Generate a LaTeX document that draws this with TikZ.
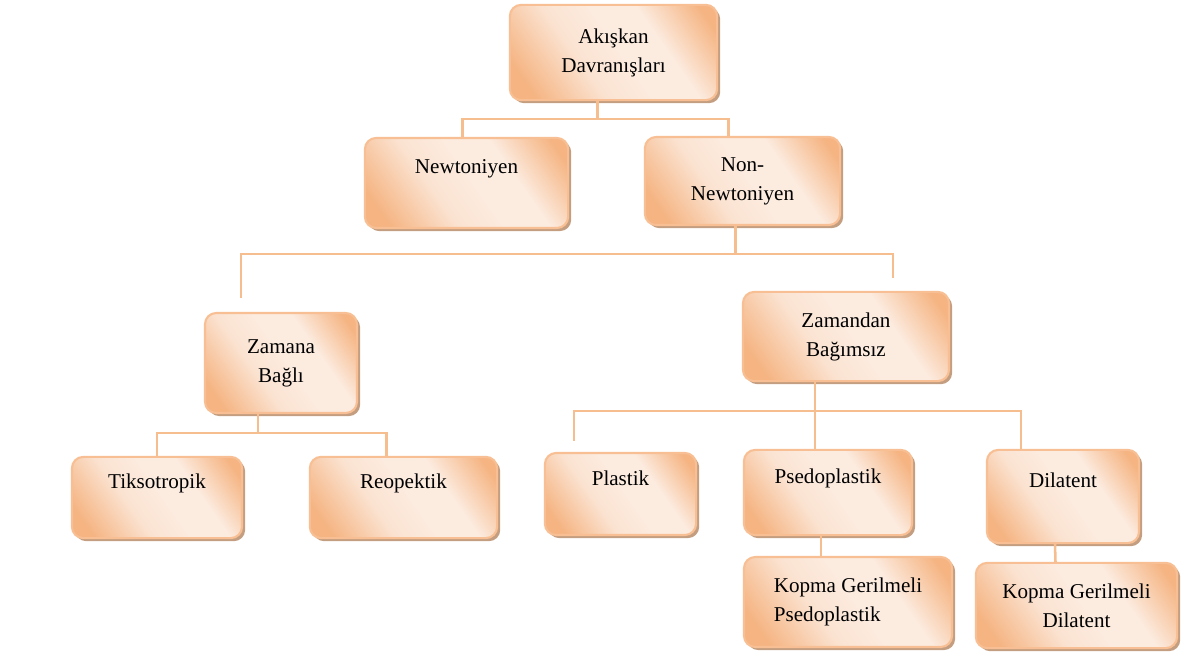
\documentclass[tikz,border=0pt]{standalone}
\usepackage{fontspec}
\setmainfont{Liberation Serif}
\usetikzlibrary{positioning,calc,shadows}

\definecolor{boxdark}{HTML}{F5B482}
\definecolor{boxlight}{HTML}{FCEBDF}
\definecolor{boxedge}{HTML}{F7BF93}
\definecolor{boxshade}{HTML}{C49E80}
\definecolor{linkc}{HTML}{F6BD8E}
\pgfdeclarehorizontalshading{peach}{100bp}{color(0bp)=(boxdark); color(22bp)=(boxdark); color(40bp)=(boxlight!85!boxdark); color(52bp)=(boxlight); color(64bp)=(boxlight); color(80bp)=(boxdark); color(100bp)=(boxdark)}

\begin{document}
\begin{tikzpicture}[x=0.025cm,y=-0.025cm,font=\fontsize{15}{20.6}\selectfont]
  %----- styles
  \tikzset{
    box/.style    ={rounded corners=8pt,draw=boxedge,line width=1.5pt,shade,shading=peach,shading angle=35,
                    general shadow={fill=boxshade,shadow xshift=2.2pt,shadow yshift=-2.2pt},align=center,inner sep=2pt},
    oneline/.style={text depth=23pt},
    link/.style   ={draw=linkc,line width=1.8pt}
  }
  \useasboundingbox (0,0) rectangle (1185,655);

  %----- nodes
  % top
  \node[box,minimum width=5.18cm,minimum height=2.38cm] (akis) at (613.5,52.5) {Akışkan\\Davranışları};
  \node[box,oneline,minimum width=5.08cm,minimum height=2.25cm] (newt) at (466.5,183) {Newtoniyen};
  \node[box,minimum width=4.88cm,minimum height=2.2cm] (nonnewt) at (742.5,181) {Non-\\Newtoniyen};
  % middle
  \node[box,minimum width=3.8cm,minimum height=2.5cm] (zbagli) at (281,363) {Zamana\\Bağlı};
  \node[box,minimum width=5.15cm,minimum height=2.23cm] (zbagimsiz) at (846,336.5) {Zamandan\\Bağımsız};
  % bottom
  \node[box,oneline,minimum width=4.25cm,minimum height=2.03cm] (tikso) at (157,497.5) {Tiksotropik};
  \node[box,oneline,minimum width=4.68cm,minimum height=2.03cm] (reo) at (403.5,497.5) {Reopektik};
  \node[box,oneline,minimum width=3.78cm,minimum height=2.05cm] (plastik) at (620.5,494) {Plastik};
  \node[box,oneline,minimum width=4.2cm,minimum height=2.13cm] (pseudo) at (828,492.5) {Psedoplastik};
  \node[box,oneline,minimum width=3.8cm,minimum height=2.33cm] (dil) at (1063,496.5) {Dilatent};
  \node[box,align=left,minimum width=5.2cm,minimum height=2.25cm] (kpseudo) at (848,602) {Kopma Gerilmeli\\Psedoplastik};
  \node[box,minimum width=5.03cm,minimum height=2.13cm] (kdil) at (1076.5,605.5) {Kopma Gerilmeli\\Dilatent};

  % loose ends
  \coordinate (zl) at (241,298);
  \coordinate (zr) at (893,278);
  \coordinate (pl) at (574,441);

  %----- connections
  \draw[link] ($(akis.south)+(-16,0)$) -- ++(0,18) -| ($(newt.north)+(-4,0)$);
  \draw[link] ($(akis.south)+(-16,0)$) -- ++(0,18) -| ($(nonnewt.north)+(-14,0)$);

  \draw[link] ($(nonnewt.south)+(-7,0)$) -- ++(0,28) -| (zl);
  \draw[link] ($(nonnewt.south)+(-7,0)$) -- ++(0,28) -| (zr);

  \draw[link] ($(zbagli.south)+(-23,0)$) -- ++(0,19) -| (tikso.north);
  \draw[link] ($(zbagli.south)+(-23,0)$) -- ++(0,19) -| ($(reo.north)+(-17,0)$);

  \draw[link] ($(zbagimsiz.south)+(-31,0)$) -- ++(0,29) -| (pl);
  \draw[link] ($(zbagimsiz.south)+(-31,0)$) -- ++(0,29) -| ($(dil.north)+(-42,0)$);
  \draw[link] ($(zbagimsiz.south)+(-31,0)$) -- ($(pseudo.north)+(-13,0)$);

  \draw[link] ($(pseudo.south)+(-7,0)$) -- ($(kpseudo.north)+(-27,0)$);
  \draw[link] ($(dil.south)+(-8,0)$) -- ($(kdil.north)+(-21,0)$);
\end{tikzpicture}
\end{document}
